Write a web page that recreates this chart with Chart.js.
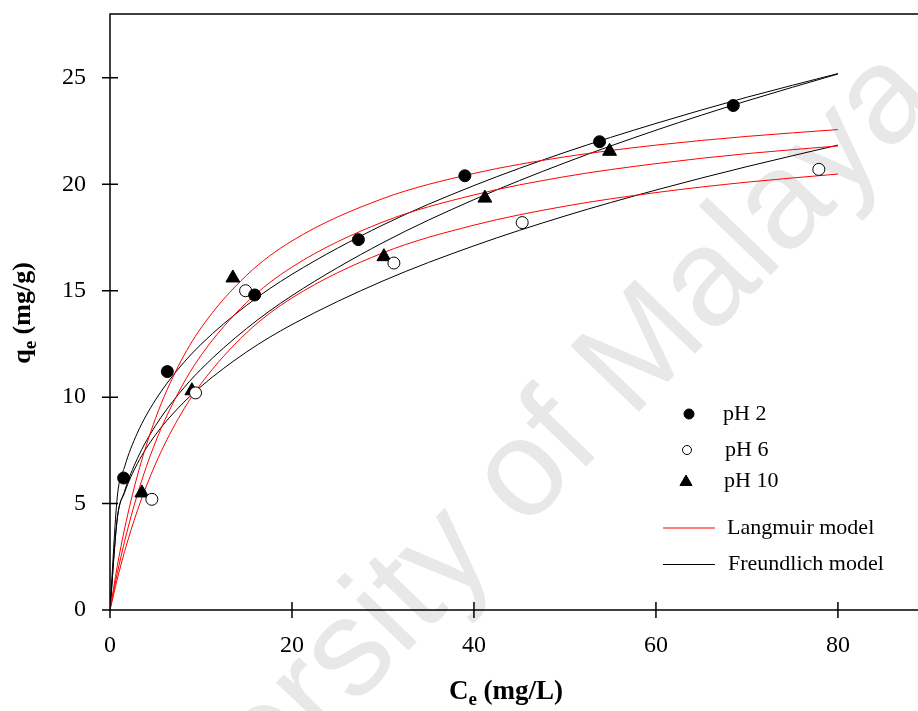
<!DOCTYPE html>
<html>
<head>
<meta charset="utf-8">
<script src="https://cdn.jsdelivr.net/npm/chart.js@4.4.0/dist/chart.umd.min.js"></script>
<style>
    html, body { margin: 0; padding: 0; background: #fff; }
    #wrap { width: 918px; height: 711px; }
</style>
</head>
<body>
<div id="wrap"><canvas id="isotherm-chart" width="918" height="711"></canvas></div>
<script>
// tick values
const X_TICKS = [0, 20, 40, 60, 80];
const Y_TICKS = [0, 5, 10, 15, 20, 25];

// measured points
const ph2Ce = [1.5, 6.3, 15.9, 27.3, 39.0, 53.8, 68.5];
const ph2Qe = [6.2, 11.2, 14.8, 17.4, 20.4, 22.0, 23.7];
const ph6Ce = [4.6, 9.4, 14.9, 31.2, 45.3, 77.9];
const ph6Qe = [5.2, 10.2, 15.0, 16.3, 18.2, 20.7];
const ph10Ce = [3.5, 9.0, 13.5, 30.1, 41.2, 54.9];
const ph10Qe = [5.5, 10.3, 15.6, 16.6, 19.35, 21.55];

// model curves
const curveCe = [0, 0.8, 1.6, 3, 5, 7.5, 10, 15, 20, 30, 40, 50, 60, 70, 80];
const langPh2 = [0, 2.06, 3.81, 6.30, 9.00, 11.45, 13.25, 15.72, 17.34, 19.33, 20.51, 21.29, 21.84, 22.25, 22.57];
const langPh6 = [0, 1.45, 2.74, 4.66, 6.86, 8.99, 10.63, 13.02, 14.66, 16.78, 18.08, 18.97, 19.61, 20.10, 20.48];
const langPh10 = [0, 1.72, 3.22, 5.42, 7.89, 10.20, 11.96, 14.44, 16.11, 18.23, 19.50, 20.36, 20.97, 21.44, 21.80];
const freuPh2 = [0, 5.31, 6.72, 8.31, 9.87, 11.32, 12.48, 14.31, 15.77, 18.09, 19.94, 21.50, 22.86, 24.09, 25.20];
const freuPh6 = [0, 4.32, 5.51, 6.87, 8.23, 9.49, 10.50, 12.12, 13.41, 15.46, 17.11, 18.51, 19.73, 20.83, 21.84];
const freuPh10 = [0, 4.28, 5.58, 7.11, 8.66, 10.12, 11.31, 13.22, 14.77, 17.26, 19.28, 21.01, 22.54, 23.92, 25.18];

const legendLabels = ['pH 2', 'pH 6', 'pH 10', 'Langmuir model', 'Freundlich model'];

const SERIF = "'Liberation Serif', 'Times New Roman', serif";

function toXY(xs, ys) {
    return xs.map(function (x, i) { return { x: x, y: ys[i] }; });
}

function curve(ys, color) {
    return {
        type: 'line',
        data: toXY(curveCe, ys),
        borderColor: color,
        borderWidth: 1,
        pointRadius: 0,
        fill: false,
        cubicInterpolationMode: 'monotone',
        order: 2
    };
}

function points(xs, ys, style, fillColor, radius) {
    return {
        type: 'scatter',
        data: toXY(xs, ys),
        pointStyle: style,
        pointRadius: radius,
        pointBackgroundColor: fillColor,
        pointBorderColor: '#000',
        pointBorderWidth: 1,
        showLine: false,
        order: 0
    };
}

// text with subscript, centred on 0,0
function drawSubTitle(ctx, main, sub, rest, size) {
    const f1 = 'bold ' + size + 'px ' + SERIF;
    const f2 = 'bold ' + Math.round(size * 0.72) + 'px ' + SERIF;
    ctx.font = f1;
    const w1 = ctx.measureText(main).width;
    const w3 = ctx.measureText(rest).width;
    ctx.font = f2;
    const w2 = ctx.measureText(sub).width;
    let x = -(w1 + w2 + w3) / 2;
    ctx.textAlign = 'left';
    ctx.textBaseline = 'alphabetic';
    ctx.font = f1;
    ctx.fillText(main, x, 0);
    ctx.font = f2;
    ctx.fillText(sub, x + w1, size * 0.22);
    ctx.font = f1;
    ctx.fillText(rest, x + w1 + w2, 0);
}

const watermark = {
    id: 'watermark',
    beforeDraw: function (chart) {
        const ctx = chart.ctx;
        ctx.save();
        ctx.translate(940, 100);
        ctx.rotate(-Math.PI / 180 * 46);
        ctx.font = '138px "Liberation Sans", Arial, sans-serif';
        ctx.fillStyle = '#e8e8e8';
        ctx.textAlign = 'right';
        ctx.textBaseline = 'alphabetic';
        ctx.fillText('University of Malaya', 0, 0);
        ctx.restore();
    }
};

const frame = {
    id: 'frame',
    afterDatasetsDraw: function (chart) {
        const ctx = chart.ctx;
        const a = chart.chartArea;
        const xs = chart.scales.x;
        const ys = chart.scales.y;
        ctx.save();
        ctx.strokeStyle = '#000';
        ctx.lineWidth = 1.5;
        ctx.beginPath();
        ctx.moveTo(a.right, a.top);
        ctx.lineTo(a.left, a.top);
        ctx.lineTo(a.left, a.bottom);
        ctx.lineTo(a.right, a.bottom);
        X_TICKS.forEach(function (v) {
            const px = xs.getPixelForValue(v);
            ctx.moveTo(px, a.bottom - 8);
            ctx.lineTo(px, a.bottom + 8);
        });
        Y_TICKS.forEach(function (v) {
            const py = ys.getPixelForValue(v);
            ctx.moveTo(a.left - 8, py);
            ctx.lineTo(a.left + 8, py);
        });
        ctx.stroke();

        ctx.fillStyle = '#000';
        ctx.save();
        ctx.translate(506, 699);
        drawSubTitle(ctx, 'C', 'e', ' (mg/L)', 27);
        ctx.restore();
        ctx.save();
        ctx.translate(30, 313);
        ctx.rotate(-Math.PI / 2);
        drawSubTitle(ctx, 'q', 'e', ' (mg/g)', 26);
        ctx.restore();
        ctx.restore();
    }
};

const legendBox = {
    id: 'legendBox',
    afterDraw: function (chart) {
        const ctx = chart.ctx;
        const h = Chart.helpers;
        ctx.save();
        ctx.lineWidth = 1;
        ctx.strokeStyle = '#000';
        ctx.fillStyle = '#000';
        h.drawPoint(ctx, { pointStyle: 'circle', radius: 5, borderWidth: 1 }, 689, 414);
        ctx.fillStyle = '#fff';
        h.drawPoint(ctx, { pointStyle: 'circle', radius: 4.5, borderWidth: 1 }, 687, 450);
        ctx.fillStyle = '#000';
        h.drawPoint(ctx, { pointStyle: 'triangle', radius: 7, borderWidth: 1 }, 686, 482);

        ctx.beginPath();
        ctx.strokeStyle = '#ff0000';
        ctx.moveTo(663, 528);
        ctx.lineTo(715, 528);
        ctx.stroke();
        ctx.beginPath();
        ctx.strokeStyle = '#000';
        ctx.moveTo(663, 564.5);
        ctx.lineTo(715, 564.5);
        ctx.stroke();

        ctx.font = '22px ' + SERIF;
        ctx.textAlign = 'left';
        ctx.textBaseline = 'middle';
        ctx.fillStyle = '#000';
        ctx.fillText(legendLabels[0], 723, 414);
        ctx.fillText(legendLabels[1], 725, 450);
        ctx.fillText(legendLabels[2], 724, 481);
        ctx.fillText(legendLabels[3], 727, 528);
        ctx.fillText(legendLabels[4], 728, 564);
        ctx.restore();
    }
};

const chartCanvas = document.getElementById('isotherm-chart');
const chart = new Chart(chartCanvas, {
    data: {
        datasets: [
            points(ph2Ce, ph2Qe, 'circle', '#000', 6),
            points(ph6Ce, ph6Qe, 'circle', '#fff', 6),
            points(ph10Ce, ph10Qe, 'triangle', '#000', 8),
            curve(langPh2, '#ff0000'),
            curve(langPh6, '#ff0000'),
            curve(langPh10, '#ff0000'),
            curve(freuPh2, '#000'),
            curve(freuPh6, '#000'),
            curve(freuPh10, '#000')
        ]
    },
    options: {
        responsive: false,
        animation: false,
        layout: { autoPadding: false, padding: { top: 14, left: 0, right: 0, bottom: 0 } },
        plugins: {
            legend: { display: false },
            tooltip: { enabled: false }
        },
        scales: {
            x: {
                type: 'linear',
                min: 0,
                max: 88.8,
                grid: { display: false },
                border: { display: false },
                afterBuildTicks: function (scale) {
                    scale.ticks = X_TICKS.map(function (v) { return { value: v }; });
                },
                afterFit: function (scale) {
                    scale.height = 101;
                    scale.paddingLeft = 0;
                    scale.paddingRight = 0;
                },
                ticks: {
                    color: '#000',
                    padding: 13,
                    maxRotation: 0,
                    font: { family: SERIF, size: 24 }
                }
            },
            y: {
                type: 'linear',
                min: 0,
                max: 28,
                grid: { display: false },
                border: { display: false },
                afterBuildTicks: function (scale) {
                    scale.ticks = Y_TICKS.map(function (v) { return { value: v }; });
                },
                afterFit: function (scale) {
                    scale.width = 110;
                    scale.paddingTop = 0;
                    scale.paddingBottom = 0;
                },
                ticks: {
                    color: '#000',
                    padding: 16,
                    font: { family: SERIF, size: 24 }
                }
            }
        }
    },
    plugins: [watermark, frame, legendBox]
});
</script>
</body>
</html>
